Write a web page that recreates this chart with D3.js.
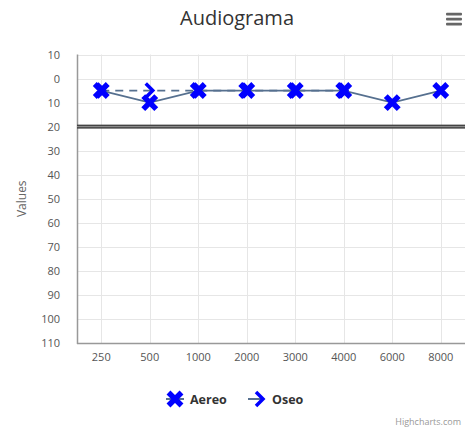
<!DOCTYPE html>
<html>
<head>
<meta charset="utf-8">
<script src="https://cdn.jsdelivr.net/npm/d3@7"></script>
<style>
  body { margin: 0; background: #fff; }
  svg { font-family: "Open Sans", "DejaVu Sans", sans-serif; }
</style>
</head>
<body>
<svg id="chart" width="469" height="436"></svg>
<script>
// ----- data -----
const frequencies = ["250", "500", "1000", "2000", "3000", "4000", "6000", "8000"];
const aereo = [5, 10, 5, 5, 5, 5, 10, 5];
const oseo = [5, 5, 5, 5, 5, 5, null, null];
const yTicks = [-10, 0, 10, 20, 30, 40, 50, 60, 70, 80, 90, 100, 110];
const limitLine = 20;

const svg = d3.select("svg#chart");
const plotLeft = 77, plotRight = 465, plotTop = 54.5, plotBottom = 343;

var x = d3.scaleBand().domain(frequencies).range([plotLeft, plotRight]);
var y = d3.scaleLinear().domain([-10, 110]).range([plotTop, plotBottom]);
const cx = (d) => x(d) + x.bandwidth() / 2;

// title
svg.append("text")
  .attr("x", 237).attr("y", 25)
  .attr("text-anchor", "middle")
  .attr("font-size", 20).attr("fill", "#333")
  .text("Audiograma");

// menu icon
[14, 19, 24].forEach((yy) =>
  svg.append("rect")
    .attr("x", 446).attr("y", yy - 1.2).attr("width", 16).attr("height", 2.6)
    .attr("rx", 1).attr("fill", "#666")
);

// grid
var grid = svg.append("g");
grid.selectAll("line.h")
  .data(yTicks)
  .join("line")
  .attr("class", "h")
  .attr("x1", plotLeft).attr("x2", plotRight)
  .attr("y1", (d) => Math.round(y(d)) + 0.5)
  .attr("y2", (d) => Math.round(y(d)) + 0.5)
  .attr("stroke", "#e6e6e6");
grid.selectAll("line.v")
  .data(frequencies)
  .join("line")
  .attr("class", "v")
  .attr("x1", (d) => Math.round(cx(d)) + 0.5)
  .attr("x2", (d) => Math.round(cx(d)) + 0.5)
  .attr("y1", plotTop).attr("y2", plotBottom)
  .attr("stroke", "#e6e6e6");

// axes lines
svg.append("line")
  .attr("x1", plotLeft + 0.5).attr("x2", plotLeft + 0.5)
  .attr("y1", plotTop).attr("y2", plotBottom + 1)
  .attr("stroke", "#999").attr("stroke-width", 1.5);
svg.append("line")
  .attr("x1", plotLeft).attr("x2", plotRight)
  .attr("y1", plotBottom + 0.5).attr("y2", plotBottom + 0.5)
  .attr("stroke", "#999").attr("stroke-width", 1.5);

// y axis labels
svg.append("g")
  .selectAll("text")
  .data(yTicks)
  .join("text")
  .attr("x", 60)
  .attr("y", (d) => y(d) + 4)
  .attr("text-anchor", "end")
  .attr("font-size", 11).attr("fill", "#555")
  .text((d) => Math.abs(d));

// x axis labels
svg.append("g")
  .selectAll("text")
  .data(frequencies)
  .join("text")
  .attr("x", (d) => cx(d))
  .attr("y", 361)
  .attr("text-anchor", "middle")
  .attr("font-size", 11).attr("fill", "#555")
  .text((d) => d);

// axis title
svg.append("text")
  .attr("transform", `translate(26, ${(plotTop + plotBottom) / 2}) rotate(-90)`)
  .attr("text-anchor", "middle")
  .attr("font-size", 12).attr("fill", "#666")
  .text("Values");

// limit line at 20
svg.append("rect")
  .attr("x", plotLeft).attr("width", plotRight - plotLeft)
  .attr("y", y(limitLine) - 2).attr("height", 4)
  .attr("fill", "#444");
svg.append("line")
  .attr("x1", plotLeft).attr("x2", plotRight)
  .attr("y1", y(limitLine)).attr("y2", y(limitLine))
  .attr("stroke", "#aaa").attr("stroke-width", 0.8);

// series
const lineColor = "#56708f";
const markerColor = "#0000ff";
const xPath = "M-6.5,-6.5L6.5,6.5M-6.5,6.5L6.5,-6.5";
const chevPath = "M-4,-7L3,0L-4,7";

const oseoPts = frequencies.map((f, i) => ({ f, v: oseo[i] }));
const aereoPts = frequencies.map((f, i) => ({ f, v: aereo[i] }));

var line = d3.line()
  .defined((d) => d.v !== null)
  .x((d) => cx(d.f))
  .y((d) => y(d.v));

svg.append("path")
  .attr("d", line(oseoPts))
  .attr("fill", "none").attr("stroke", lineColor)
  .attr("stroke-width", 1.8).attr("stroke-dasharray", "8,6");

svg.append("g")
  .selectAll("path")
  .data(oseoPts.filter((d) => d.v !== null))
  .join("path")
  .attr("transform", (d) => `translate(${cx(d.f)}, ${y(d.v)})`)
  .attr("d", chevPath)
  .attr("fill", "none").attr("stroke", markerColor)
  .attr("stroke-width", 3.5);

svg.append("path")
  .attr("d", line(aereoPts))
  .attr("fill", "none").attr("stroke", lineColor)
  .attr("stroke-width", 1.8);

svg.append("g")
  .selectAll("path")
  .data(aereoPts)
  .join("path")
  .attr("transform", (d) => `translate(${cx(d.f)}, ${y(d.v)})`)
  .attr("d", xPath)
  .attr("fill", "none").attr("stroke", markerColor)
  .attr("stroke-width", 5.5);

// legend
var legend = svg.append("g");
legend.append("line")
  .attr("x1", 166).attr("x2", 184).attr("y1", 399).attr("y2", 399)
  .attr("stroke", lineColor).attr("stroke-width", 2);
legend.append("path")
  .attr("transform", "translate(175, 399)")
  .attr("d", xPath)
  .attr("fill", "none").attr("stroke", markerColor).attr("stroke-width", 5.5);
legend.append("text")
  .attr("x", 190).attr("y", 403.5)
  .attr("font-size", 12.5).attr("font-weight", "bold").attr("fill", "#333")
  .text("Aereo");

legend.append("line")
  .attr("x1", 248).attr("x2", 264).attr("y1", 399).attr("y2", 399)
  .attr("stroke", lineColor).attr("stroke-width", 2);
legend.append("path")
  .attr("transform", "translate(260, 399)")
  .attr("d", chevPath)
  .attr("fill", "none").attr("stroke", markerColor).attr("stroke-width", 3.5);
legend.append("text")
  .attr("x", 272).attr("y", 403.5)
  .attr("font-size", 12.5).attr("font-weight", "bold").attr("fill", "#333")
  .text("Oseo");

// credits
svg.append("text")
  .attr("x", 461).attr("y", 425)
  .attr("text-anchor", "end")
  .attr("font-size", 9).attr("fill", "#999")
  .text("Highcharts.com");
</script>
</body>
</html>
